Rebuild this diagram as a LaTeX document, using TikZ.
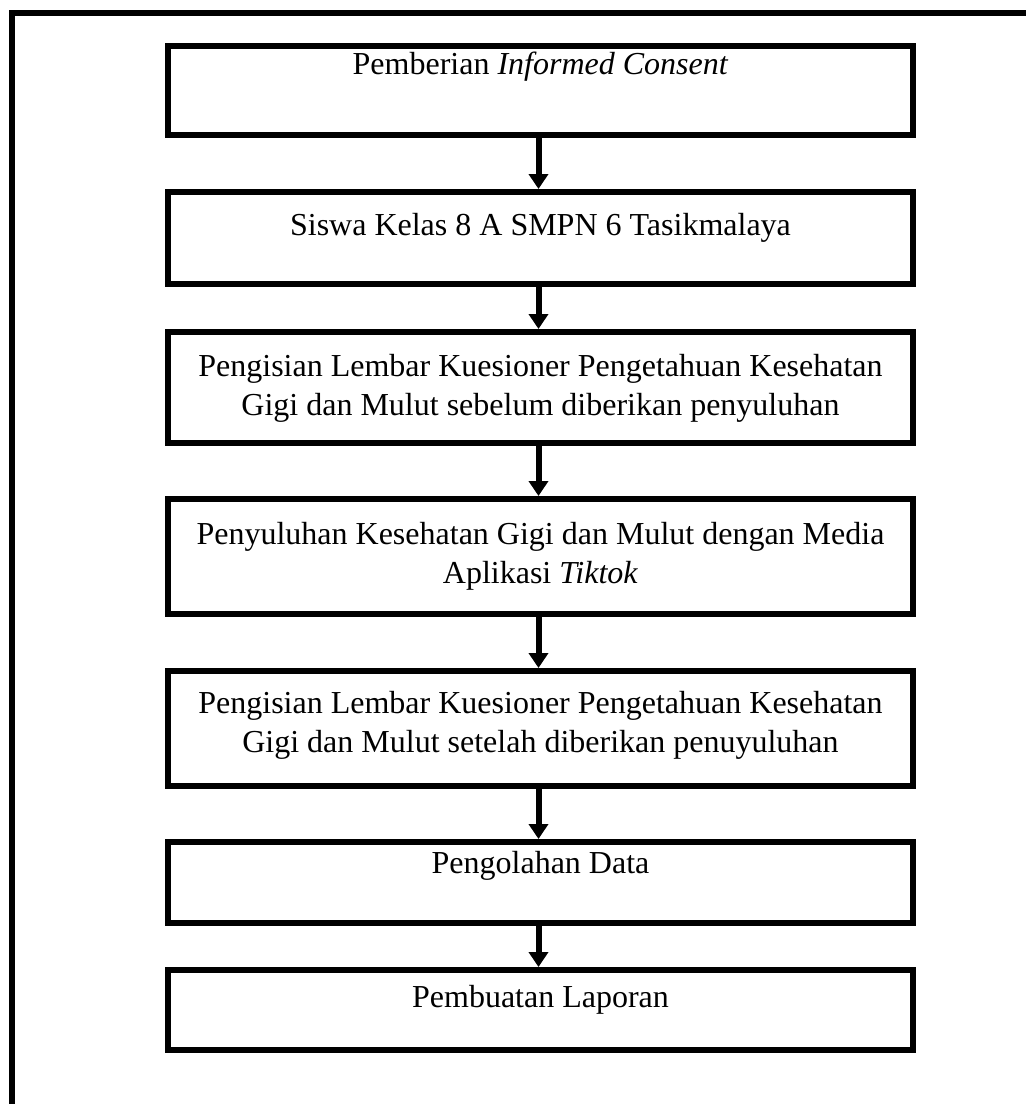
\documentclass[tikz,border=0pt]{standalone}
\usepackage{fontspec}
\setmainfont{Liberation Serif}
\usetikzlibrary{arrows.meta}
\begin{document}
\begin{tikzpicture}[x=1pt,y=-1pt,
  box/.style={draw=black,line width=6pt,minimum width=745pt,inner sep=0pt,anchor=north},
  txt/.style={font=\fontsize{32}{39}\selectfont,align=center,inner sep=0pt},
  arr/.style={line width=6pt,-{Triangle[width=19pt,length=15pt]}}]
\useasboundingbox (0,0) rectangle (1026,1104);
\draw[line width=6pt] (12,1110) -- (12,13) -- (1030,13);
\node[box,minimum height=89pt] (b1) at (540.5,43) {};
\node[box,minimum height=92pt] (b2) at (540.5,189) {};
\node[box,minimum height=111pt] (b3) at (540.5,329) {};
\node[box,minimum height=115pt] (b4) at (540.5,496) {};
\node[box,minimum height=115pt] (b5) at (540.5,668) {};
\node[box,minimum height=81pt] (b6) at (540.5,839) {};
\node[box,minimum height=80pt] (b7) at (540.5,967) {};
\node[txt] (t1) at (540.5,67) {Pemberian \textit{Informed Consent}};
\node[txt] (t2) at (540.5,228) {Siswa Kelas 8 A SMPN 6 Tasikmalaya};
\node[txt] (t3) at (540.5,388) {Pengisian Lembar Kuesioner Pengetahuan Kesehatan\\Gigi dan Mulut sebelum diberikan penyuluhan};
\node[txt] (t4) at (540.5,556) {Penyuluhan Kesehatan Gigi dan Mulut dengan Media\\Aplikasi \textit{Tiktok}};
\node[txt] (t5) at (540.5,725) {Pengisian Lembar Kuesioner Pengetahuan Kesehatan\\Gigi dan Mulut setelah diberikan penuyuluhan};
\node[txt] (t6) at (540.5,866) {Pengolahan Data};
\node[txt] (t7) at (540.5,1000) {Pembuatan Laporan};
\draw[arr] ([xshift=-2pt]b1.south) -- ([xshift=-2pt]b2.north);
\draw[arr] ([xshift=-2pt]b2.south) -- ([xshift=-2pt]b3.north);
\draw[arr] ([xshift=-2pt]b3.south) -- ([xshift=-2pt]b4.north);
\draw[arr] ([xshift=-2pt]b4.south) -- ([xshift=-2pt]b5.north);
\draw[arr] ([xshift=-2pt]b5.south) -- ([xshift=-2pt]b6.north);
\draw[arr] ([xshift=-2pt]b6.south) -- ([xshift=-2pt]b7.north);
\end{tikzpicture}
\end{document}
